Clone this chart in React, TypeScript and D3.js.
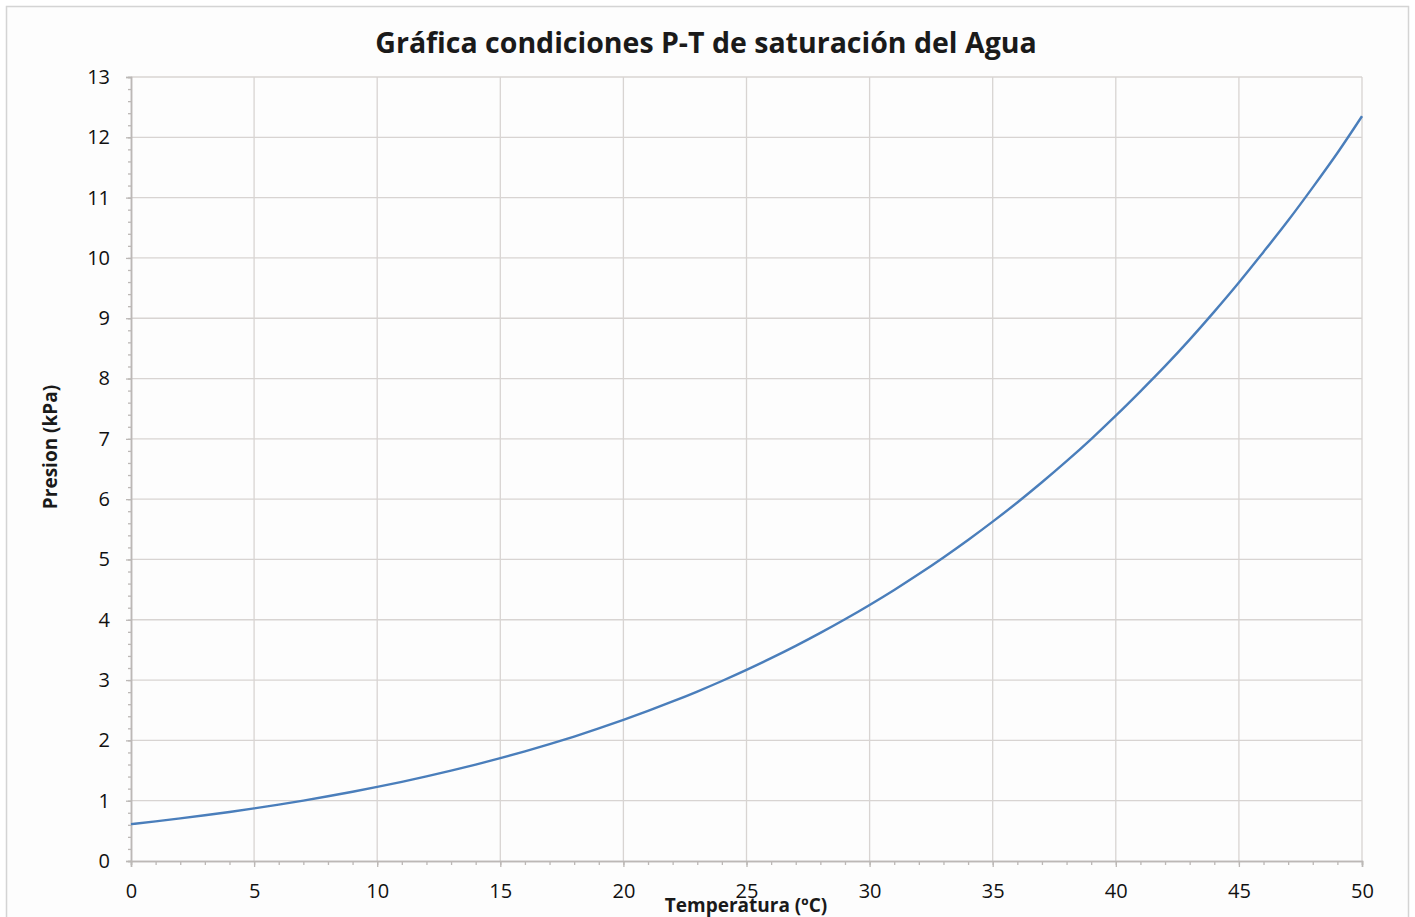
import React, { useEffect, useRef } from 'react';
import * as d3 from 'd3';

// Presión de saturación del agua (kPa) por temperatura (ºC)
const temperatures = [
  0, 1, 2, 3, 4, 5, 6, 7, 8, 9, 10, 11, 12, 13, 14, 15, 16, 17, 18, 19, 20, 21, 22, 23, 24, 25,
  26, 27, 28, 29, 30, 31, 32, 33, 34, 35, 36, 37, 38, 39, 40, 41, 42, 43, 44, 45, 46, 47, 48, 49, 50,
];
const pressures = [
  0.611, 0.657, 0.706, 0.758, 0.813, 0.872, 0.935, 1.002, 1.073, 1.148, 1.228, 1.313, 1.403, 1.498,
  1.599, 1.706, 1.819, 1.938, 2.064, 2.198, 2.339, 2.488, 2.645, 2.81, 2.985, 3.169, 3.363, 3.567,
  3.782, 4.008, 4.246, 4.495, 4.758, 5.034, 5.323, 5.627, 5.945, 6.28, 6.63, 6.997, 7.384, 7.788,
  8.205, 8.646, 9.11, 9.593, 10.1, 10.62, 11.17, 11.74, 12.35,
];
const xTicks = [0, 5, 10, 15, 20, 25, 30, 35, 40, 45, 50];
const yTicks = [0, 1, 2, 3, 4, 5, 6, 7, 8, 9, 10, 11, 12, 13];

const title = 'Gráfica condiciones P-T de saturación del Agua';
const xTitle = 'Temperatura (ºC)';
const yTitle = 'Presion (kPa)';

const W = 1415;
const H = 917;
const FONT = '"Open Sans", sans-serif';

export default function App() {
  const svgRef = useRef<SVGSVGElement>(null);

  useEffect(() => {
    if (!svgRef.current) return;
    const svg = d3.select(svgRef.current);
    svg.selectAll('*').remove();

    const left = 131, right = 1362, top = 77, bottom = 861;

    const x = d3.scaleLinear().domain([0, 50]).range([left, right]);
    const y = d3.scaleLinear().domain([0, 13]).range([bottom, top]);

    // outer frame
    svg.append('rect')
      .attr('x', 6.5).attr('y', 6.5)
      .attr('width', 1402).attr('height', 930)
      .attr('fill', '#fdfdfd')
      .attr('stroke', '#d4d4d4')
      .attr('stroke-width', 1.5);

    // grid
    const grid = svg.append('g').attr('stroke', '#d8d4d2').attr('stroke-width', 1.3);
    yTicks.slice(1).forEach(t => {
      grid.append('line').attr('x1', left).attr('x2', right).attr('y1', y(t)).attr('y2', y(t));
    });
    xTicks.slice(1).forEach(t => {
      grid.append('line').attr('x1', x(t)).attr('x2', x(t)).attr('y1', top).attr('y2', bottom);
    });

    // axes
    const yAxis = d3.axisLeft(y).tickValues(yTicks).tickSize(5).tickPadding(16).tickFormat(d3.format('d'));
    const yMinor = d3.axisLeft(y).tickValues(d3.range(0, 13.01, 0.2)).tickSize(3).tickFormat(() => '');
    const xAxis = d3.axisBottom(x).tickValues(xTicks).tickSize(6).tickPadding(17).tickFormat(d3.format('d'));
    const xMinor = d3.axisBottom(x).tickValues(d3.range(0, 51, 1)).tickSize(4).tickFormat(() => '');

    const styleAxis = (g: d3.Selection<SVGGElement, unknown, null, undefined>) => {
      g.select('.domain').attr('stroke', '#bcb8b6').attr('stroke-width', 1.5);
      g.selectAll('line').attr('stroke', '#bcb8b6').attr('stroke-width', 1.3);
      g.selectAll('text')
        .attr('font-family', FONT)
        .attr('font-size', 20)
        .attr('fill', '#111');
    };

    svg.append('g').attr('transform', `translate(${left},0)`).call(yMinor).call(styleAxis);
    svg.append('g').attr('transform', `translate(${left},0)`).call(yAxis).call(styleAxis);
    svg.append('g').attr('transform', `translate(0,${bottom})`).call(xMinor).call(styleAxis);
    svg.append('g').attr('transform', `translate(0,${bottom})`).call(xAxis).call(styleAxis);

    // series
    const line = d3.line<number>()
      .x((_, i) => x(temperatures[i]))
      .y(d => y(d))
      .curve(d3.curveMonotoneX);

    svg.append('path')
      .datum(pressures)
      .attr('fill', 'none')
      .attr('stroke', '#4a7ebb')
      .attr('stroke-width', 2.4)
      .attr('d', line);

    // titles
    svg.append('text')
      .attr('x', 706).attr('y', 53)
      .attr('text-anchor', 'middle')
      .attr('font-family', FONT)
      .attr('font-weight', 'bold')
      .attr('font-size', 28.5)
      .attr('fill', '#1a1a1a')
      .text(title);

    svg.append('text')
      .attr('x', 746).attr('y', 912)
      .attr('text-anchor', 'middle')
      .attr('font-family', FONT)
      .attr('font-weight', 'bold')
      .attr('font-size', 19)
      .attr('fill', '#1a1a1a')
      .text(xTitle);

    svg.append('text')
      .attr('transform', `translate(57,447) rotate(-90)`)
      .attr('text-anchor', 'middle')
      .attr('font-family', FONT)
      .attr('font-weight', 'bold')
      .attr('font-size', 19)
      .attr('fill', '#1a1a1a')
      .text(yTitle);
  }, []);

  return (
    <svg
      ref={svgRef}
      width={W}
      height={H}
      style={{ position: 'absolute', left: 0, top: 0, background: '#fff' }}
    />
  );
}
